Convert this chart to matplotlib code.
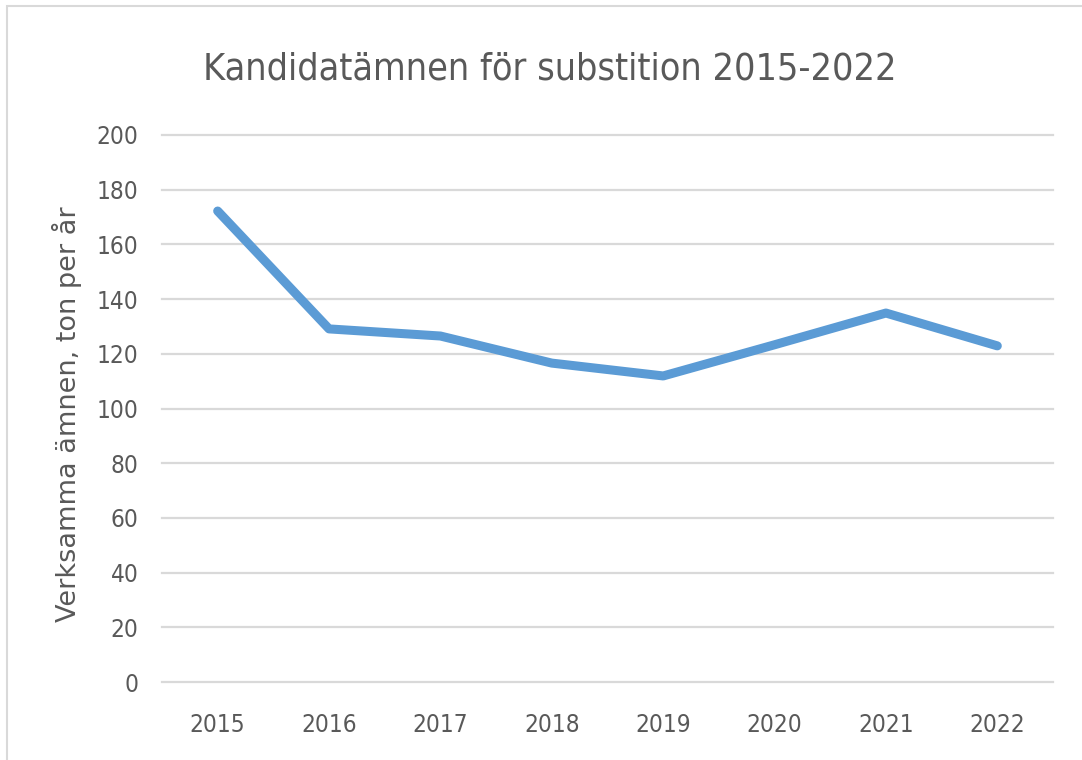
import matplotlib.pyplot as plt
from matplotlib.patches import Rectangle

# data
years = ['2015', '2016', '2017', '2018', '2019', '2020', '2021', '2022']
ton_per_year = [172.2, 129.1, 126.5, 116.6, 111.9, 123.3, 134.9, 122.9]
y_ticks = [0, 20, 40, 60, 80, 100, 120, 140, 160, 180, 200]

plt.rcParams['font.family'] = ['DejaVu Sans Condensed', 'Liberation Sans Narrow', 'DejaVu Sans']
plt.rcParams['font.stretch'] = 'condensed'
text_grey = '#595959'

fig = plt.figure(figsize=(10.82, 7.6), dpi=100)
ax = fig.add_axes([0.1497, 0.1026, 0.8235, 0.7198])

x = list(range(len(years)))
ax.plot(x, ton_per_year, color='#5B9BD5', lw=6.5, solid_capstyle='round',
        solid_joinstyle='round', zorder=3)

ax.set_xlim(-0.5, len(years) - 0.5)
ax.set_ylim(0, 200)
ax.set_yticks(y_ticks)
ax.set_xticks(x)
ax.set_xticklabels(years)
ax.grid(axis='y', color='#D9D9D9', lw=1.6)
for gl in ax.get_ygridlines():
    gl.set_clip_on(False)
ax.set_axisbelow(True)
for s in ax.spines.values():
    s.set_visible(False)
ax.tick_params(length=0, labelsize=17.5, colors=text_grey)
ax.tick_params(axis='y', pad=17)
ax.tick_params(axis='x', pad=22)

# y label is drawn in the normal (not condensed) width
ax.set_ylabel('Verksamma ämnen, ton per år', fontsize=19.5, color=text_grey,
              family='DejaVu Sans', fontstretch='normal')
ax.yaxis.set_label_coords(-0.09, 0.49)
fig.text(0.508, 0.908, 'Kandidatämnen för substition 2015-2022', fontsize=27,
         color=text_grey, ha='center', va='center')

# light frame around the chart area
fig.patches.append(Rectangle((7 / 1082, -0.05), 1.1, 1.05 - 6 / 760, transform=fig.transFigure,
                             fill=False, edgecolor='#D9D9D9', lw=1.5))

fig.savefig('out.png', dpi=100)
